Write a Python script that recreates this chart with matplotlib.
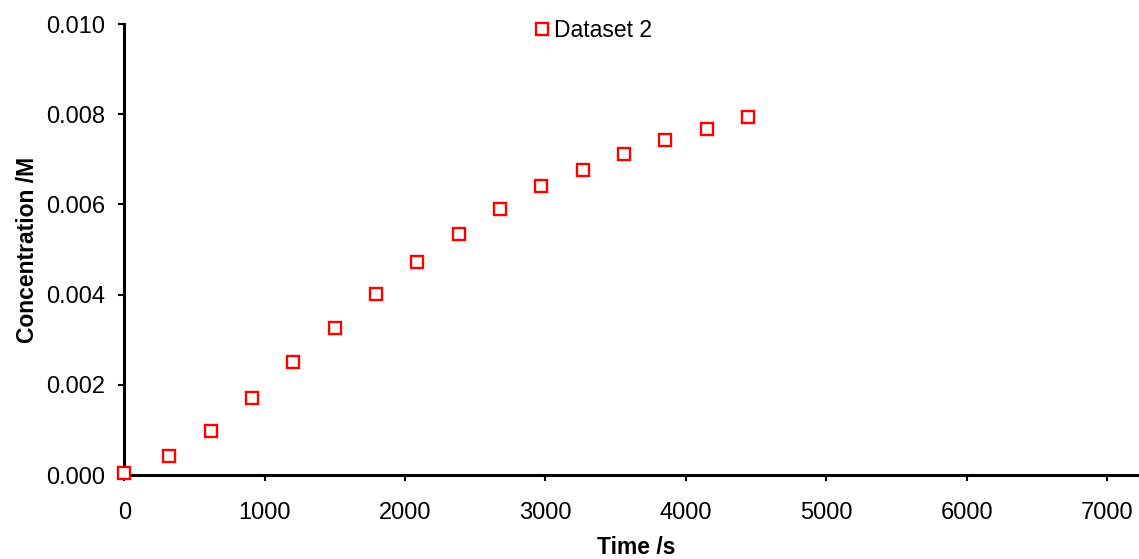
import matplotlib
matplotlib.use("Agg")
import matplotlib.pyplot as plt

time_s = [0, 320, 615, 907, 1204, 1501, 1791, 2087, 2382, 2676, 2968, 3265, 3559, 3853, 4148, 4442]
conc_M = [0.00005, 0.00042, 0.00098, 0.00170, 0.00251, 0.00327, 0.00401, 0.00472, 0.00534,
          0.00590, 0.00641, 0.00676, 0.00712, 0.00742, 0.00767, 0.00794]
x_ticks = [0, 1000, 2000, 3000, 4000, 5000, 6000, 7000]
y_ticks = [0.000, 0.002, 0.004, 0.006, 0.008, 0.010]
series_name = "Dataset 2"

plt.rcParams['font.family'] = ['Liberation Sans', 'DejaVu Sans']

fig = plt.figure(figsize=(11.39, 5.59), dpi=100)
ax = fig.add_axes([0.1091, 0.150, 0.8909, 0.807])

ax.plot(time_s, conc_M, linestyle='none', marker='s', markersize=8.3,
        markerfacecolor='white', markeredgecolor='#ff0000', markeredgewidth=1.7,
        label=series_name, clip_on=False, zorder=3)

ax.set_xlim(0, 7227)
ax.set_ylim(0, 0.010)
ax.set_xticks(x_ticks)
ax.set_xticklabels([str(v) for v in x_ticks])
ax.set_yticks(y_ticks)
ax.set_yticklabels([f"{v:.3f}" for v in y_ticks])

for s in ['top', 'right']:
    ax.spines[s].set_visible(False)
for s in ['left', 'bottom']:
    ax.spines[s].set_linewidth(2.2)
    ax.spines[s].set_color('black')

ax.tick_params(axis='both', direction='out', length=4.5, width=1.5, labelsize=17)
ax.tick_params(axis='y', pad=9)
ax.tick_params(axis='x', pad=15)

ax.set_xlabel("Time /s", fontsize=16.5, fontweight='bold')
ax.set_ylabel("Concentration /M", fontsize=16.5, fontweight='bold')
ax.xaxis.set_label_coords(0.505, -0.1752, transform=ax.transAxes)
ax.yaxis.set_label_coords(-0.0955, 0.5, transform=ax.transAxes)
ax.xaxis.label.set_va('baseline')
ax.yaxis.label.set_va('center')

leg = fig.legend(loc='center', bbox_to_anchor=(0.5212, 0.946), frameon=False, fontsize=16.5,
                 handlelength=0.6, handletextpad=0.25, borderpad=0)

fig.savefig("out.png", dpi=100)
